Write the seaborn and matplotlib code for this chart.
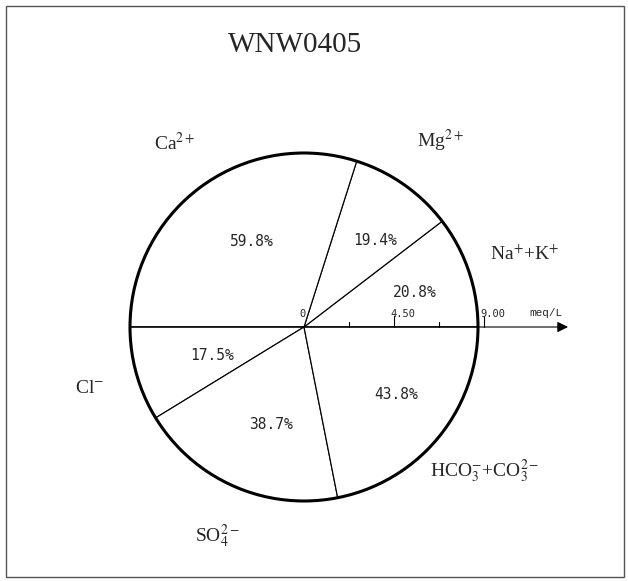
import numpy as np
import seaborn as sns
import matplotlib.pyplot as plt
from matplotlib.patches import Circle, Rectangle

# ion shares (%) : cations on the upper half, anions on the lower half
ions = ['Na$^{+}$+K$^{+}$', 'Mg$^{2+}$', 'Ca$^{2+}$',
        'Cl$^{-}$', 'SO$_4^{2-}$', 'HCO$_3^{-}$+CO$_3^{2-}$']
shares = [20.8, 19.4, 59.8, 17.5, 38.7, 43.8]
total_meq = 8.7          # circle radius in meq/L
axis_ticks = [2.25, 4.50, 6.75, 9.00]
tick_labels = ['', '4.50', '', '9.00']
title = 'WNW0405'

sns.set_theme(style='white')
plt.rcParams['font.family'] = ['Liberation Serif', 'DejaVu Serif']
plt.rcParams['mathtext.fontset'] = 'stix'

fig = plt.figure(figsize=(6.28, 5.81), dpi=100)
ax = fig.add_axes([0, 0, 1, 1])

texts = ax.pie(shares, labels=ions, radius=total_meq, startangle=0,
               counterclock=True, colors=['white'] * len(shares),
               labeldistance=1.31, pctdistance=0.61,
               autopct=lambda p: f'{p * 2:.1f}%',
               wedgeprops=dict(edgecolor='black', linewidth=0.85))
for t in texts[1]:
    t.set_ha('center')
    t.set_va('center')
    t.set_fontsize(14)
    x, y = t.get_position()
    t.set_position((x + 0.25, y))
for t in texts[2]:
    t.set_family('DejaVu Sans Mono')
    t.set_fontsize(10.5)
    x, y = t.get_position()
    t.set_position((x + 0.5, y))

ax.add_patch(Circle((0, 0), total_meq, fill=False, lw=2.2, color='black', zorder=3))

# concentration axis
ax.annotate('', xy=(13.2, 0), xytext=(-total_meq, 0),
            arrowprops=dict(arrowstyle='-|>', lw=0.8, color='black',
                            mutation_scale=16, shrinkA=0, shrinkB=0))
for x, lab in zip(axis_ticks, tick_labels):
    h = 0.55 if lab else 0.25
    ax.plot([x, x], [0, h], color='black', lw=0.8)
    if lab:
        ax.text(x - 0.2, 0.4, lab, ha='left', va='bottom',
                family='DejaVu Sans Mono', fontsize=7.5)
ax.text(-0.1, 0.4, '0', ha='center', va='bottom', family='DejaVu Sans Mono', fontsize=7.5)
ax.text(12.1, 0.45, 'meq/L', ha='center', va='bottom', family='Liberation Mono', fontsize=8)

ax.text(-0.45, 14.1, title, ha='center', va='center', fontsize=21)

ax.add_patch(Rectangle((-14.9, -12.5), 30.9, 28.55, fill=False, lw=1, color='#555555'))

ax.set_xlim(-15.2, 16.2)
ax.set_ylim(-12.7, 16.35)
ax.set_aspect('equal')
ax.axis('off')

plt.savefig('out.png', dpi=100)
